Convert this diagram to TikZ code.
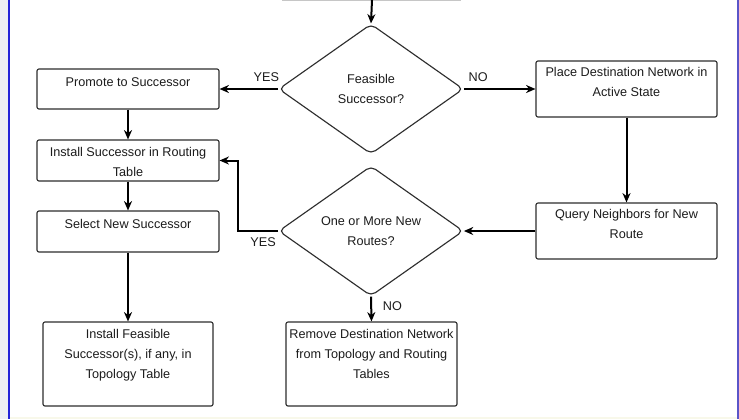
\documentclass[tikz,border=0pt]{standalone}
\usepackage{fontspec}
\setmainfont{Liberation Sans}
\usetikzlibrary{shapes.geometric,arrows.meta}
\definecolor{txt}{HTML}{1C1C1C}
\definecolor{edgec}{HTML}{2E2E2E}
\definecolor{leftbg}{HTML}{EEF0F4}
\definecolor{blueline}{HTML}{2424D8}
\definecolor{rightline}{HTML}{5A55C8}
\definecolor{bottombg}{HTML}{F8F8EA}
\newcommand\bxt[4]{\parbox[c][#2][t]{#1}{\centering\rule{0pt}{#3}#4}}
\tikzset{
  box/.style={draw=edgec, line width=0.85pt, rounded corners=1.5pt, inner sep=0pt, text=txt,
    font=\fontsize{9.5pt}{15pt}\selectfont},
  decision/.style={draw=edgec, line width=0.85pt, diamond, rounded corners=4pt, inner sep=0pt,
    minimum width=138.5pt, minimum height=97.5pt, align=center, text=txt,
    font=\fontsize{9.5pt}{15pt}\selectfont},
  arr/.style={-{Stealth[length=7pt,width=6pt,inset=2.2pt]}, line width=1.5pt, black},
  lbl/.style={text=txt, font=\fontsize{9.5pt}{15pt}\selectfont, inner sep=0pt}
}
\begin{document}
\begin{tikzpicture}[x=0.75pt,y=-0.75pt]
\useasboundingbox (0,0) rectangle (739,419);
% frame
\fill[white] (0,0) rectangle (739,419);
\fill[leftbg] (0,0) rectangle (7.5,419);
\fill[bottombg] (9.5,417) rectangle (739,419);
\fill[blueline] (7.5,0) rectangle (9.8,419);
\fill[rightline] (736.8,0) rectangle (739,419);
% partially visible box at top
\draw[gray!45, line width=0.8pt] (282,0.4) -- (461,0.4);
\coordinate (top) at (372,0);
% nodes
\node[decision] (d1) at (371,89) {Feasible\\Successor?};
\node[decision] (d2) at (371,231) {One or More New\\Routes?};
\node[box] (promote) at (128,89) {\bxt{136.5pt}{30pt}{12.75pt}{Promote to Successor}};
\node[box] (installS) at (128,160.5) {\bxt{136.5pt}{30.75pt}{12pt}{Install Successor in Routing\\Table}};
\node[box] (select) at (128,231.5) {\bxt{136.5pt}{30.75pt}{12.75pt}{Select New Successor}};
\node[box] (installF) at (128,364) {\bxt{127.5pt}{63pt}{12pt}{Install Feasible\\Successor(s), if any, in\\Topology Table}};
\node[box] (remove) at (371.5,364) {\bxt{128.25pt}{63pt}{12pt}{Remove Destination Network\\from Topology and Routing\\Tables}};
\node[box] (place) at (626.5,89) {\bxt{135.75pt}{42pt}{11.25pt}{Place Destination Network in\\Active State}};
\node[box] (query) at (626.5,231) {\bxt{135.75pt}{42pt}{11.25pt}{Query Neighbors for New\\Route}};
% connectors
\draw[arr] (top) -- (d1.north);
\draw[arr] (d1.west) -- node[lbl, pos=0.2, anchor=south, yshift=5pt] {YES} (promote.east);
\draw[arr] (d1.east) -- node[lbl, pos=0.2, anchor=south, yshift=5pt] {NO} (place.west);
\draw[arr] (promote.south) -- (installS.north);
\draw[arr] (installS.south) -- (select.north);
\draw[arr] (select.south) -- (installF.north);
\draw[arr] (place.south) -- (query.north);
\draw[arr] (query.west) -- (d2.east);
\draw[arr] (d2.west) -- node[lbl, pos=0.375, anchor=north, yshift=-4pt] {YES} ++(-40,0) |- (installS.east);
\draw[arr] (d2.south) -- node[lbl, pos=0.37, anchor=west, xshift=8pt] {NO} (remove.north);
\end{tikzpicture}
\end{document}
